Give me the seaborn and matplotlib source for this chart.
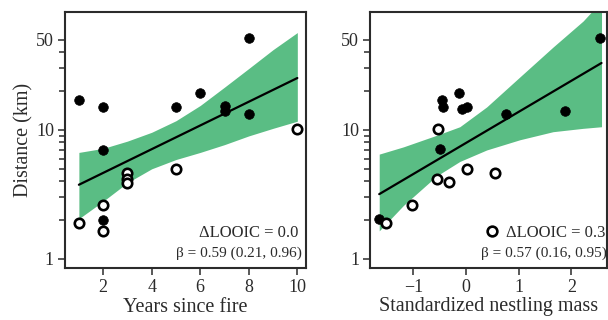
import matplotlib
matplotlib.use("Agg")
import matplotlib.pyplot as plt
from matplotlib.lines import Line2D
import seaborn as sns

# --- left panel: years since fire ---
fire_filled_x = [1, 2, 2, 2, 5, 6, 7, 7, 8, 8]
fire_filled_y = [17.1, 15.0, 7.0, 2.0, 15.0, 19.4, 15.4, 14.0, 51.6, 13.2]
fire_open_x = [1, 2, 2, 3, 3, 3, 5, 10]
fire_open_y = [1.9, 2.6, 1.66, 4.6, 4.2, 3.9, 5.0, 10.1]
fire_line_x = [1, 10]
fire_line_y = [3.76, 25.3]
fire_band_x = [1, 2, 3, 4, 5, 6, 7, 8, 9, 10]
fire_band_hi = [6.7, 7.2, 8.2, 9.6, 11.8, 15.5, 21.5, 30, 42, 57]
fire_band_lo = [2.05, 2.8, 3.9, 5.0, 5.9, 6.7, 7.7, 9.0, 10.3, 11.7]

# --- right panel: standardized nestling mass ---
mass_filled_x = [-1.66, -0.49, -0.45, -0.43, -0.13, -0.08, 0.01, 0.76, 1.88, 2.55]
mass_filled_y = [2.04, 7.1, 17.1, 15.0, 19.5, 14.5, 15.2, 13.2, 14.0, 51.6]
mass_open_x = [-1.52, -1.03, -0.54, -0.55, -0.32, 0.01, 0.55]
mass_open_y = [1.9, 2.6, 10.1, 4.2, 3.98, 5.0, 4.6]
mass_line_x = [-1.65, 2.57]
mass_line_y = [3.18, 33.1]
mass_band_x = [-1.65, -1.19, -0.56, -0.12, 0.39, 1.02, 1.65, 2.22, 2.57]
mass_band_hi = [6.5, 7.4, 9.1, 10.6, 15.1, 25.8, 44, 70, 100]
mass_band_lo = [1.65, 2.6, 4.4, 5.7, 7.0, 8.4, 9.7, 10.3, 10.6]

y_major = [1, 10, 50]
y_minor = [2, 3, 4, 5, 6, 7, 8, 9, 20, 30, 40]

GREEN = "#5abd84"
INK = "#2b2b2b"

sns.set_theme(style="ticks")
plt.rcParams["font.family"] = ["Liberation Serif", "DejaVu Serif"]

fig = plt.figure(figsize=(6.08, 3.20), dpi=100)
ax1 = fig.add_axes([0.107, 0.1625, 0.396, 0.8015])
ax2 = fig.add_axes([0.609, 0.1625, 0.389, 0.8015])


def draw_panel(ax, fx, fy, ox, oy, lx, ly, bx, bhi, blo):
    ax.fill_between(bx, blo, bhi, color=GREEN, lw=0, zorder=1)
    sns.lineplot(x=lx, y=ly, ax=ax, color="black", lw=1.6, zorder=2)
    sns.scatterplot(x=fx, y=fy, ax=ax, color="black", s=48,
                    edgecolor="black", linewidth=0.5, zorder=3)
    sns.scatterplot(x=ox, y=oy, ax=ax, facecolor="white", s=46,
                    edgecolor="black", linewidth=1.9, zorder=3)
    ax.set_yscale("log")
    ax.set_ylim(0.85, 83)
    ax.set_yticks(y_major)
    ax.set_yticklabels([str(v) for v in y_major])
    ax.set_yticks(y_minor, minor=True)
    ax.set_yticklabels([], minor=True)
    for s in ax.spines.values():
        s.set_visible(True)
        s.set_color(INK)
        s.set_linewidth(1.5)
    ax.tick_params(axis="both", which="major", length=5, width=1.1,
                   color=INK, labelsize=13, labelcolor=INK, pad=3)
    ax.tick_params(axis="y", which="minor", length=4, width=1.1, color=INK)


draw_panel(ax1, fire_filled_x, fire_filled_y, fire_open_x, fire_open_y,
           fire_line_x, fire_line_y, fire_band_x, fire_band_hi, fire_band_lo)
draw_panel(ax2, mass_filled_x, mass_filled_y, mass_open_x, mass_open_y,
           mass_line_x, mass_line_y, mass_band_x, mass_band_hi, mass_band_lo)

ax1.set_xlim(0.43, 10.35)
ax1.set_xticks([2, 4, 6, 8, 10])
ax1.set_xlabel("Years since fire", fontsize=14.5, color=INK, labelpad=1)
ax1.set_ylabel("Distance (km)", fontsize=14.5, color=INK, labelpad=2)

ax2.set_xlim(-1.82, 2.67)
ax2.set_xticks([-1, 0, 1, 2])
ax2.set_xticklabels(["\u22121", "0", "1", "2"])
ax2.set_xlabel("Standardized nestling mass", fontsize=14.5, color=INK,
               labelpad=1)
ax2.set_ylabel("")

# annotations
ax1.text(0.967, 0.136, "\u0394LOOIC = 0.0", transform=ax1.transAxes,
         ha="right", va="center", fontsize=12, color=INK)
ax1.text(0.985, 0.058, "\u03b2 = 0.59 (0.21, 0.96)", transform=ax1.transAxes,
         ha="right", va="center", fontsize=11, color=INK)

handle = Line2D([], [], ls="none", marker="o", ms=7, mfc="white",
                mec="black", mew=1.9)
ax2.legend([handle], ["\u0394LOOIC = 0.3"], loc="center right",
           bbox_to_anchor=(0.995, 0.136), frameon=False, fontsize=12,
           handletextpad=0.35, handlelength=1.0, borderpad=0,
           borderaxespad=0, labelcolor=INK)
ax2.text(1.0, 0.058, "\u03b2 = 0.57 (0.16, 0.95)", transform=ax2.transAxes,
         ha="right", va="center", fontsize=11, color=INK)

fig.savefig("out.png", dpi=100)
